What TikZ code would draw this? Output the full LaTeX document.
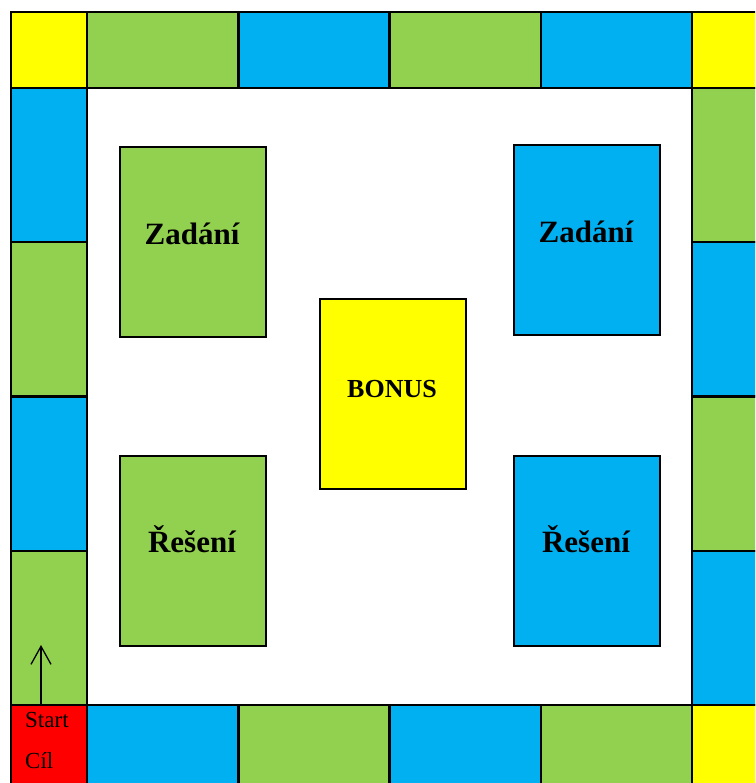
\documentclass[tikz,border=0pt]{standalone}
\usepackage{fontspec}
\setmainfont{Liberation Serif}
\usetikzlibrary{arrows.meta}
\definecolor{boardgreen}{HTML}{92D050}
\definecolor{boardblue}{HTML}{00B0F0}
\definecolor{boardyellow}{HTML}{FFFF00}
\definecolor{boardred}{HTML}{FF0000}
\tikzset{
  field/.style={draw,line width=2.5pt,anchor=north west,inner sep=0pt,outer sep=0pt},
  cornerfield/.style={field,minimum width=76pt,minimum height=76pt},
  hfield/.style={field,minimum width=151.25pt,minimum height=76pt},
  vfield/.style={field,minimum width=76pt,minimum height=154.25pt},
  card/.style={draw,line width=2pt,anchor=north west,minimum width=146pt,minimum height=190pt},
  cardlabel/.style={anchor=base,inner sep=0pt,font=\bfseries\fontsize{31}{31}\selectfont},
  startlabel/.style={anchor=base west,inner sep=0pt,font=\fontsize{23}{23}\selectfont},
}

\begin{document}
\begin{tikzpicture}[x=1pt,y=-1pt]

\useasboundingbox (0,0) rectangle (755,783);
\clip (0,0) rectangle (755,783);

% board fields
\foreach \c [count=\i] in {boardgreen,boardblue,boardgreen,boardblue}
  \node[hfield,fill=\c] (top\i) at ({87+(\i-1)*151.25},12) {};
\foreach \c [count=\i] in {boardblue,boardgreen,boardblue,boardgreen}
  \node[hfield,minimum height=90pt,fill=\c] (bottom\i) at ({87+(\i-1)*151.25},705) {};
\foreach \c [count=\i] in {boardblue,boardgreen,boardblue,boardgreen}
  \node[vfield,fill=\c] (left\i) at (11,{88+(\i-1)*154.25}) {};
\foreach \c [count=\i] in {boardgreen,boardblue,boardgreen,boardblue}
  \node[vfield,fill=\c] (right\i) at (692,{88+(\i-1)*154.25}) {};

\node[cornerfield,fill=boardyellow] (topleft) at (11,12) {};
\node[cornerfield,fill=boardyellow] (topright) at (692,12) {};
\node[cornerfield,minimum height=90pt,fill=boardred] (startfield) at (11,705) {};
\node[cornerfield,minimum height=90pt,fill=boardyellow] (bottomright) at (692,705) {};

% cards
\node[card,fill=boardgreen] (zadaniL) at (119,146) {};
\node[card,fill=boardblue] (zadaniR) at (513,144) {};
\node[card,fill=boardyellow] (bonus) at (319,298) {};
\node[card,fill=boardgreen] (reseniL) at (119,455) {};
\node[card,fill=boardblue] (reseniR) at (513,455) {};

\node[cardlabel] (zadaniLtext) at (192,245) {Zadání};
\node[cardlabel] (zadaniRtext) at (586,243) {Zadání};
\node[cardlabel,font=\bfseries\fontsize{26}{26}\selectfont] (bonustext) at (392,397) {BONUS};
\node[cardlabel] (reseniLtext) at (192,552) {Řešení};
\node[cardlabel] (reseniRtext) at (586,552) {Řešení};

% start
\node[startlabel] (starttext) at (25,727) {Start};
\node[startlabel] (ciltext) at (25,768) {Cíl};
\coordinate (arrowtip) at (41,645);
\draw[-{Straight Barb[length=18pt,width=20pt]},line width=1.3pt] (arrowtip |- startfield.north) -- (arrowtip);

\end{tikzpicture}
\end{document}
